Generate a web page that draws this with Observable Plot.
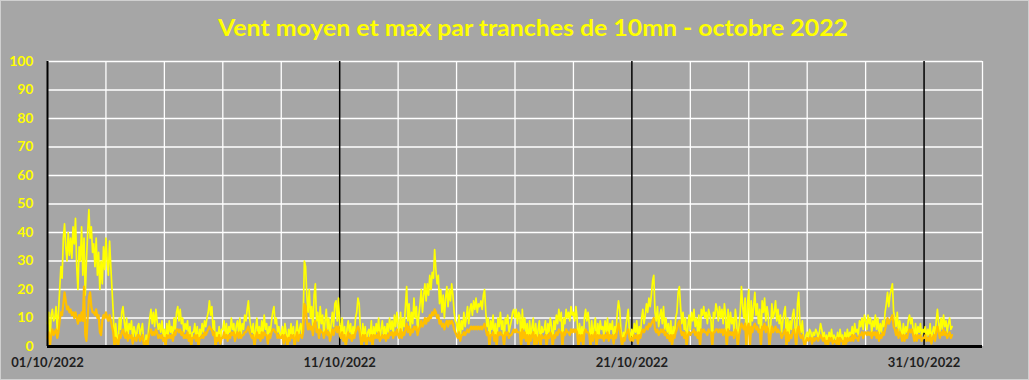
<!DOCTYPE html>
<html><head><meta charset="utf-8">
<script src="https://cdn.jsdelivr.net/npm/d3@7"></script>
<script src="https://cdn.jsdelivr.net/npm/@observablehq/plot@0.6"></script>
<style>
body{margin:0;background:#a6a6a6;}
#wrap{position:relative;width:1029px;height:380px;background:#a6a6a6;overflow:hidden;font-family:Lato,"Open Sans",sans-serif;}
#title{position:absolute;top:15px;left:218px;white-space:nowrap;font-size:23px;line-height:24px;font-weight:bold;color:#ffff00;transform-origin:0 50%;}
#chart{position:absolute;top:44px;left:0;}
#border{position:absolute;left:0;top:0;width:1027px;height:378px;border:1px solid #d0d0d0;pointer-events:none;}
</style></head><body>
<div id="wrap"><div id="title">Vent moyen et max par tranches de 10mn - octobre 2022</div><div id="chart"></div><div id="border"></div></div>
<script>
// hourly readings (km/h), 24 per day, octobre 2022
const maxDays = [
[8,12,0,11,13,9,10,14,6,12,20,28,24,38,43,35,30,40,32,38,31,42,36,45],
[28,20,35,30,42,25,38,18,30,40,48,38,42,33,36,28,38,25,33,20,30,22,35,27],
[38,30,25,37,28,20,12,0,8,3,0,10,6,12,14,9,5,10,3,8,6,9,2,7],
[5,3,7,8,4,6,8,2,0,4,0,6,10,13,8,12,7,13,9,6,8,5,9,4],
[6,0,8,4,9,5,7,3,10,6,12,14,9,13,8,10,5,8,6,9,3,7,0,5],
[5,8,3,7,0,6,4,8,5,9,7,10,12,16,11,14,6,9,0,5,3,7,2,6],
[6,9,4,8,3,7,5,10,6,8,2,7,9,5,10,4,8,6,11,9,13,16,10,7],
[5,8,0,6,10,4,7,3,9,5,11,6,8,2,7,5,9,12,14,8,10,5,7,4],
[4,7,2,8,5,0,6,3,8,4,7,0,5,9,3,6,8,4,10,30,28,18,12,20],
[10,14,6,18,22,9,12,5,14,8,11,4,9,13,6,10,3,8,12,7,15,16,9,17],
[8,4,10,3,7,0,6,9,5,8,2,7,4,10,12,17,15,6,0,8,3,7,0,5],
[6,3,9,0,7,4,8,5,10,2,6,9,4,7,3,8,5,10,6,9,4,11,7,12],
[8,5,12,4,10,7,14,21,9,15,6,12,8,17,10,14,5,11,15,20,12,18,22,16],
[22,18,25,20,26,24,34,27,22,25,15,20,12,18,10,17,21,14,20,16,22,18,12,9],
[8,5,11,3,9,6,12,7,10,14,8,13,15,11,16,13,17,12,15,14,16,13,18,20],
[12,7,10,0,9,6,11,3,8,0,10,7,12,6,9,0,10,8,11,5,7,9,12,13],
[10,13,8,12,11,0,13,6,10,4,8,0,9,3,7,10,0,8,2,6,9,0,7,5],
[6,9,0,8,5,10,7,0,9,6,11,8,13,9,12,0,10,8,13,10,12,9,14,11],
[12,9,14,10,0,8,3,7,0,10,13,9,12,8,0,9,3,7,10,0,8,4,9,6],
[7,4,9,5,10,3,8,6,9,2,7,5,12,16,13,6,0,5,3,7,10,13,5,3],
[6,3,8,5,9,2,7,4,10,13,8,11,15,12,17,14,18,23,25,12,9,14,7,11],
[13,8,14,6,10,5,8,3,9,0,7,4,10,12,19,21,14,8,12,6,10,0,7,11],
[6,12,9,13,7,10,5,11,0,13,11,14,10,12,8,13,11,9,0,12,10,15,13,9],
[14,10,13,8,15,11,0,13,6,12,8,10,5,13,9,0,7,12,21,14,10,17,0,15],
[20,0,16,9,14,19,11,15,8,13,0,16,12,17,9,14,11,0,7,15,10,12,16,9],
[13,8,11,5,9,12,14,0,10,4,9,6,11,13,7,0,15,19,8,5,9,3,0,4],
[5,3,6,5,2,5,4,6,5,3,5,8,6,3,5,2,4,1,5,3,6,2,4,3],
[2,5,1,6,3,4,0,5,2,6,3,5,4,7,3,8,5,6,4,9,7,10,6,11],
[9,6,11,8,10,5,9,7,11,6,10,4,8,5,9,7,12,15,19,14,18,20,22,12],
[10,7,12,5,9,6,3,8,4,7,5,9,11,8,10,6,4,8,3,7,5,8,4,6],
[5,7,3,6,4,8,2,5,7,4,9,13,8,5,10,6,11,7,9,5,8,10,6,7]
];
const meanDays = [
[3,5,0,4,6,4,5,6,3,5,9,12,11,15,19,16,13,14,12,13,11,12,10,12],
[10,8,11,9,12,9,21,4,2,10,17,19,14,12,12,11,13,10,11,5,4,9,11,10],
[12,10,9,11,9,7,5,0,3,2,0,4,3,5,6,4,3,5,2,4,3,4,1,3],
[3,2,4,4,2,3,4,1,0,2,0,3,5,6,4,5,4,6,5,3,4,3,4,2],
[3,0,4,3,4,3,4,2,5,4,6,6,5,6,4,5,3,4,3,5,2,4,0,3],
[3,4,2,4,0,3,3,4,3,5,4,5,6,7,6,6,4,5,0,3,2,4,1,3],
[3,5,3,4,2,4,3,5,4,5,2,4,5,3,5,3,4,4,5,5,6,7,5,4],
[3,4,0,3,5,3,4,2,5,3,5,4,4,1,4,3,5,6,6,5,5,3,4,3],
[3,4,1,4,3,0,3,2,4,3,4,0,3,5,2,4,4,3,5,15,14,9,6,8],
[6,7,4,8,9,5,6,3,6,5,5,3,5,6,4,5,2,4,6,4,6,7,5,7],
[4,3,5,2,4,0,3,5,3,4,2,4,3,5,6,7,6,3,0,4,2,4,0,3],
[3,2,4,0,4,3,4,3,5,2,3,4,3,4,2,4,3,5,4,5,3,5,4,6],
[4,3,6,3,5,4,6,8,5,7,4,6,5,7,6,7,4,6,7,9,7,8,10,8],
[10,9,11,10,12,11,13,12,10,11,8,9,7,8,6,8,9,7,9,8,9,8,6,5],
[4,3,5,2,4,4,5,4,5,6,5,6,7,6,7,6,7,6,7,6,7,6,7,8],
[6,4,5,0,4,4,5,2,4,0,5,4,5,4,4,0,5,4,5,3,4,4,5,6],
[5,6,5,5,5,0,6,3,5,2,4,0,4,2,4,5,0,4,1,3,4,0,4,3],
[3,4,0,4,3,5,4,0,4,3,5,4,6,5,5,0,5,4,6,5,5,4,6,5],
[6,5,6,5,0,4,2,4,0,5,6,5,5,4,0,4,2,4,5,0,4,3,4,3],
[4,2,4,3,5,2,4,3,4,1,4,3,6,8,6,3,0,3,2,4,5,6,3,2],
[3,2,4,3,4,1,4,3,5,6,5,6,7,6,8,7,8,9,10,6,5,6,4,5],
[6,5,6,4,5,3,4,2,4,0,4,3,5,6,8,9,6,4,5,3,5,0,4,5],
[4,5,5,6,4,5,3,5,0,6,5,6,5,5,4,6,5,5,0,5,5,6,6,5],
[6,5,6,4,6,5,0,6,4,5,4,5,3,6,5,0,4,6,8,7,6,8,0,7],
[8,0,7,5,7,8,6,7,5,6,0,7,6,8,5,7,6,0,4,7,5,6,7,5],
[6,5,5,3,4,5,6,0,5,2,4,3,5,6,4,0,6,7,4,3,4,2,0,2],
[3,2,3,3,1,3,2,3,3,2,3,4,3,2,3,1,2,0,3,2,3,1,2,2],
[1,3,0,3,2,2,0,3,1,3,2,3,2,4,2,4,3,3,2,4,4,5,3,5],
[5,4,5,4,5,3,5,4,5,3,5,2,4,3,5,4,6,8,10,8,9,10,11,7],
[6,4,6,3,5,4,2,4,2,4,3,5,6,5,6,4,2,4,2,4,3,4,2,3],
[3,4,2,3,2,4,1,3,4,2,5,7,5,3,5,4,6,4,5,3,4,5,3,4]
];
const yTicks = [0,10,20,30,40,50,60,70,80,90,100];
const xTickDays = [1, 11, 21, 31];          // labelled dates (octobre)
const majorDays = [11, 21, 31];             // black vertical lines
const minorDays = [3,5,7,9,13,15,17,19,23,25,27,29,33]; // white vertical lines (33 = 2 nov)

const day = d => new Date(Date.UTC(2022, 9, d));
const data = [];
maxDays.forEach((arr, di) => arr.forEach((v, h) => {
  data.push({date: new Date(Date.UTC(2022, 9, 1 + di, h)), max: v, mean: meanDays[di][h]});
}));

const chart = Plot.plot({
  width: 1029,
  height: 336,
  marginLeft: 47,
  marginRight: 47,
  marginTop: 17,
  marginBottom: 34,
  style: {background: "transparent", fontFamily: "Lato, 'Open Sans', sans-serif", overflow: "visible"},
  x: {type: "utc", domain: [day(1), day(33)]},
  y: {domain: [0, 100]},
  marks: [
    Plot.ruleY(yTicks.filter(d => d > 0), {stroke: "#ffffff", strokeWidth: 1.3}),
    Plot.ruleX(minorDays.map(day), {stroke: "#ffffff", strokeWidth: 1.3}),
    Plot.ruleX(majorDays.map(day), {stroke: "#000000", strokeWidth: 1.5}),
    Plot.lineY(data, {x: "date", y: "max", stroke: "#ffff00", strokeWidth: 1.7}),
    Plot.lineY(data, {x: "date", y: "mean", stroke: "#ffc000", strokeWidth: 2.2}),
    Plot.ruleX([day(1)], {stroke: "#000000", strokeWidth: 2}),
    Plot.ruleY([0], {stroke: "#000000", strokeWidth: 3}),
    Plot.axisY({ticks: yTicks, tickSize: 0, tickPadding: 14, color: "#ffff00", fontSize: 14, fontWeight: "bold", label: null}),
    Plot.axisX({ticks: xTickDays.map(day), tickSize: 0, tickPadding: 11, tickFormat: d3.utcFormat("%d/%m/%Y"), color: "#1f1f1f", fontSize: 13, fontWeight: "bold", label: null})
  ]
});
document.getElementById("chart").appendChild(chart);
const t = document.getElementById("title");
const w = t.getBoundingClientRect().width;
t.style.transform = `scaleX(${630 / w})`;
</script>
</body></html>
